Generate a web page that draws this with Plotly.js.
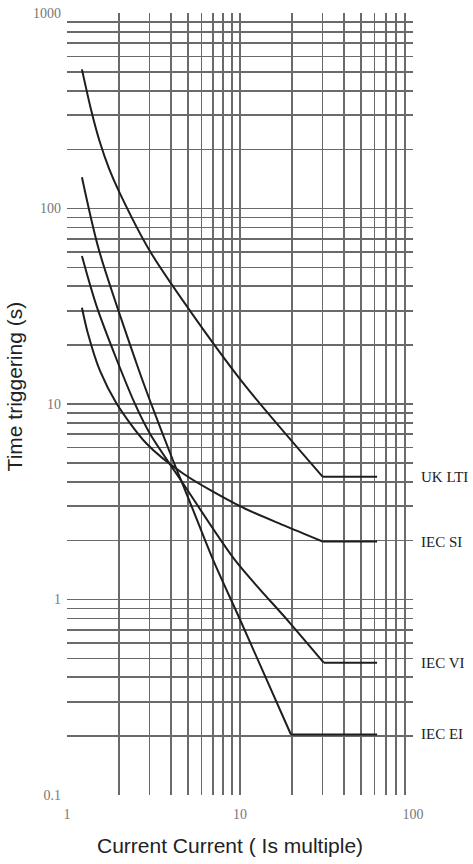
<!DOCTYPE html>
<html>
<head>
<meta charset="utf-8">
<script src="https://cdn.plot.ly/plotly-3.0.1.min.js"></script>
<style>
  html, body { margin: 0; padding: 0; background: #ffffff; }
  #chart { width: 473px; height: 864px; }
</style>
</head>
<body>
<div id="chart"></div>
<script>
// ---- data ----
const seriesNames = ["UK LTI", "IEC SI", "IEC VI", "IEC EI"];

const ukLtiX = [1.22, 1.38, 1.54, 1.75, 2.0, 3.0, 5.87, 10.8, 30, 62];
const ukLtiY = [515, 318, 222, 160, 122, 61, 25.4, 12.3, 4.25, 4.25];

const iecSiX = [1.22, 1.32, 1.55, 1.93, 2.87, 4.71, 10, 17.8, 30, 62];
const iecSiY = [31.1, 23, 14.8, 10.1, 6.3, 4.4, 3.0, 2.4, 1.98, 1.98];

const iecViX = [1.22, 1.51, 2.46, 3.03, 4.71, 9.36, 19.4, 30.5, 62];
const iecViY = [57.2, 30.2, 10.1, 7.0, 3.9, 1.59, 0.76, 0.475, 0.475];

const iecEiX = [1.22, 1.53, 2.5, 3.03, 4.09, 5.21, 7.0, 10, 19.7, 62];
const iecEiY = [144.5, 61.3, 16.5, 10.3, 5.17, 3.05, 1.59, 0.79, 0.204, 0.204];

// axis grid values and labels
const xGridVals = [1,2,3,4,5,6,7,8,9,10,20,30,40,50,60,70,80,90,100];
const yGridVals = [0.1,0.2,0.3,0.4,0.5,0.6,0.7,0.8,0.9,1,2,3,4,5,6,7,8,9,10,20,30,40,50,60,70,80,90,100,200,300,400,500,600,700,800,900,1000];
const xLabeled = [1, 10, 100];
const yLabeled = [0.1, 1, 10, 100, 1000];

const xTitle = "Current Current ( Is multiple)";
const yTitle = "Time triggering (s)";

// ---- build traces ----
const all = [
  [ukLtiX, ukLtiY],
  [iecSiX, iecSiY],
  [iecViX, iecViY],
  [iecEiX, iecEiY]
];
const lineColor = "#1e1e1e";
const traces = [];
all.forEach(([xs, ys], i) => {
  // curved part
  traces.push({
    x: xs.slice(0, -1), y: ys.slice(0, -1),
    type: "scatter", mode: "lines", name: seriesNames[i],
    line: { color: lineColor, width: 2, shape: "spline", smoothing: 0.8 },
    hoverinfo: "skip", showlegend: false
  });
  // plateau
  traces.push({
    x: xs.slice(-2), y: ys.slice(-2),
    type: "scatter", mode: "lines", name: seriesNames[i],
    line: { color: lineColor, width: 2 },
    hoverinfo: "skip", showlegend: false
  });
});

const fmt = v => (xLabeled.includes(v) ? String(v) : "");
const fmtY = v => (yLabeled.includes(v) ? String(v) : "");

const annotations = all.map(([xs, ys], i) => ({
  text: seriesNames[i],
  xref: "paper", x: 1, xanchor: "left", xshift: 6,
  yref: "y", y: Math.log10(ys[ys.length - 1]), yanchor: "middle",
  showarrow: false,
  font: { family: "Liberation Serif, Times New Roman, serif", size: 15, color: "#222" }
}));
annotations.push({
  text: xTitle, xref: "paper", yref: "paper",
  x: 0.471, y: -0.065, xanchor: "center", yanchor: "middle",
  showarrow: false,
  font: { family: "Liberation Sans, Arial, sans-serif", size: 21, color: "#222" }
});
annotations.push({
  text: yTitle, xref: "paper", yref: "paper",
  x: -0.152, y: 0.523, xanchor: "center", yanchor: "middle",
  textangle: -90, showarrow: false,
  font: { family: "Liberation Sans, Arial, sans-serif", size: 21, color: "#222" }
});

const axisCommon = {
  type: "log",
  showgrid: true, gridcolor: "#6a6a6a", gridwidth: 1.6,
  zeroline: false, showline: false, ticks: "",
  tickfont: { family: "Liberation Serif, Times New Roman, serif", size: 14, color: "#777" }
};

const layout = {
  width: 473, height: 864,
  margin: { l: 67, r: 60, t: 13, b: 69 },
  paper_bgcolor: "#ffffff", plot_bgcolor: "#ffffff",
  showlegend: false,
  xaxis: Object.assign({}, axisCommon, {
    range: [0, 2], tickmode: "array",
    tickvals: xGridVals, ticktext: xGridVals.map(fmt),
    ticklabelstandoff: 9
  }),
  yaxis: Object.assign({}, axisCommon, {
    range: [-1, 3], tickmode: "array",
    tickvals: yGridVals, ticktext: yGridVals.map(fmtY),
    ticklabelstandoff: 5
  }),
  annotations: annotations
};

Plotly.newPlot("chart", traces, layout, { staticPlot: true, displayModeBar: false });
</script>
</body>
</html>
